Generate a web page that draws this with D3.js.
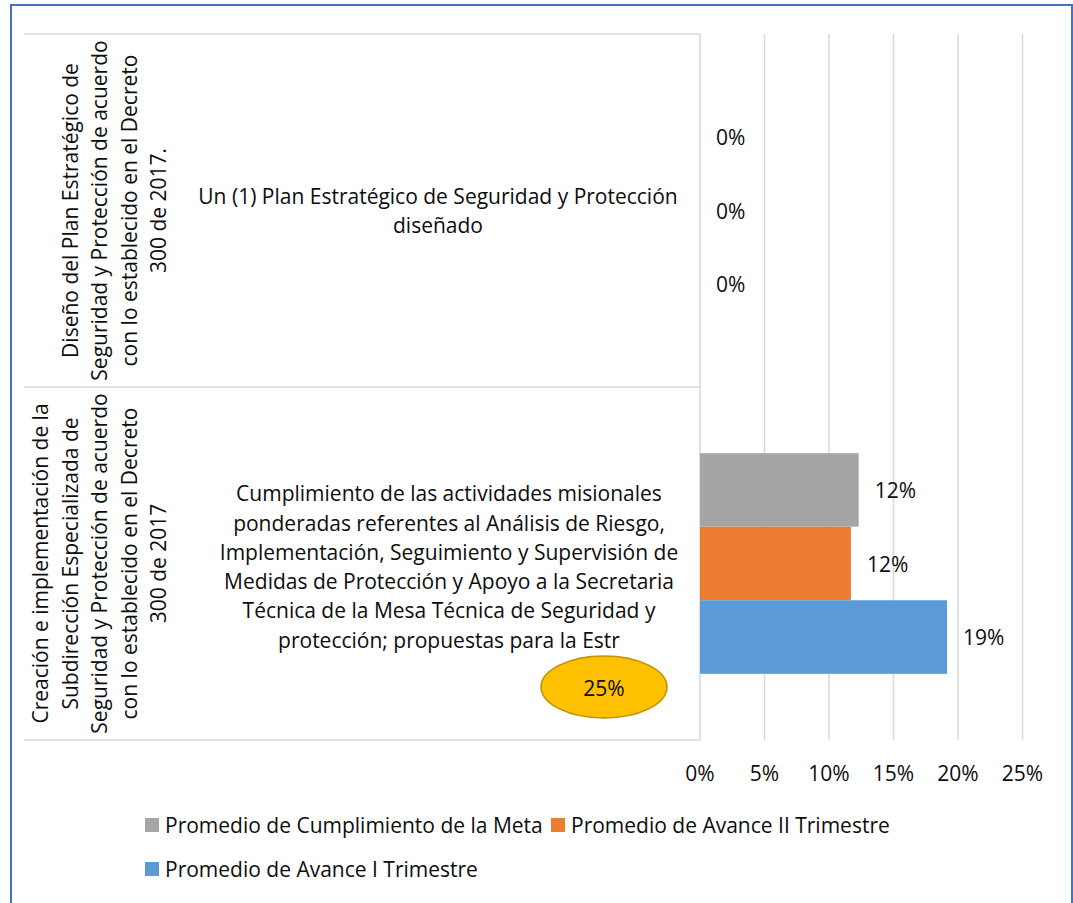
<!DOCTYPE html>
<html>
<head>
<meta charset="utf-8">
<script src="https://cdn.jsdelivr.net/npm/d3@7"></script>
<style>
  body { margin: 0; background: #fff; }
  text { font-family: "Open Sans", sans-serif; fill: #0d0d0d; }
</style>
</head>
<body>
<div id="chart"></div>
<script>
// categories (outer level, wrapped lines) and inner labels
const outerLabels = [
    ["Diseño del Plan Estratégico de", "Seguridad y Protección de acuerdo", "con lo establecido en el Decreto", "300 de 2017."],
    ["Creación e implementación de la", "Subdirección Especializada de", "Seguridad y Protección  de acuerdo", "con lo establecido en el Decreto", "300 de 2017"]
];
const innerLabels = [
    ["Un (1) Plan Estratégico de Seguridad y Protección", "diseñado"],
    ["Cumplimiento de las actividades misionales", "ponderadas referentes al Análisis de Riesgo,",
     "Implementación, Seguimiento y Supervisión de", "Medidas de Protección y Apoyo a la Secretaria",
     "Técnica de la Mesa Técnica de Seguridad y", "protección; propuestas para la Estr"]
];
const categories = ["plan", "subdireccion"];
const seriesNames = ["Promedio de Cumplimiento de la Meta", "Promedio de Avance II Trimestre", "Promedio de Avance I Trimestre"];
const metaValues = [0, 0.123];
const avance2Values = [0, 0.117];
const avance1Values = [0, 0.1915];
const xTicks = [0, 0.05, 0.10, 0.15, 0.20, 0.25];
const calloutLabel = "25%";

const seriesValues = [metaValues, avance2Values, avance1Values];
const colors = ["#A5A5A5", "#ED7D31", "#5B9BD5"];
const FS = "21px";

const W = 1073, H = 903;
const svg = d3.select("#chart").append("svg")
    .attr("width", W).attr("height", H);

// outer frame
svg.append("rect")
    .attr("x", 11).attr("y", 5).attr("width", 1061).attr("height", 920)
    .attr("fill", "none").attr("stroke", "#4472C4").attr("stroke-width", 2);

const plotTop = 34, plotBottom = 740, plotLeft = 700, tableLeft = 24;
const x = d3.scaleLinear().domain([0, 0.25]).range([plotLeft, 1022.5]);
const y = d3.scaleBand().domain(categories).range([plotTop, plotBottom]);
const ySub = d3.scaleBand().domain(d3.range(seriesNames.length))
    .range([0, y.bandwidth()]).paddingInner(0).paddingOuter(0.9);

// gridlines
svg.append("g").selectAll("line")
    .data(xTicks)
    .join("line")
    .attr("x1", d => x(d)).attr("x2", d => x(d))
    .attr("y1", plotTop).attr("y2", plotBottom)
    .attr("stroke", "#D9D9D9").attr("stroke-width", 1.5);

// table lines of the category axis
const hLines = [plotTop, ...categories.map(c => y(c) + y.bandwidth())];
svg.append("g").selectAll("line")
    .data(hLines)
    .join("line")
    .attr("x1", tableLeft).attr("x2", plotLeft)
    .attr("y1", d => d).attr("y2", d => d)
    .attr("stroke", "#D9D9D9").attr("stroke-width", 1.5);

// bars
const groups = svg.append("g").selectAll("g")
    .data(categories)
    .join("g")
    .attr("transform", c => `translate(0,${y(c)})`);

groups.each(function(c, ci) {
    const g = d3.select(this);
    seriesValues.forEach((vals, si) => {
        g.append("rect")
            .attr("x", x(0))
            .attr("y", ySub(si))
            .attr("width", x(vals[ci]) - x(0))
            .attr("height", ySub.bandwidth())
            .attr("fill", colors[si]);
        g.append("text")
            .attr("x", x(vals[ci]) + 16)
            .attr("y", ySub(si) + ySub.bandwidth() / 2)
            .attr("dominant-baseline", "central")
            .style("font-size", FS)
            .text(d3.format(".0%")(vals[ci]));
    });
});

// outer (rotated) category labels
categories.forEach((c, ci) => {
    const lines = outerLabels[ci];
    const cy = y(c) + y.bandwidth() / 2;
    lines.forEach((t, i) => {
        const lx = 158 - (lines.length - 1 - i) * 29.5;
        svg.append("text")
            .attr("transform", `translate(${lx},${cy}) rotate(-90)`)
            .attr("text-anchor", "middle")
            .attr("dominant-baseline", "central")
            .style("font-size", FS)
            .text(t);
    });
});

// inner category labels
const innerCx = [438, 449];
categories.forEach((c, ci) => {
    const lines = innerLabels[ci];
    const lh = 29.3;
    const cy = y(c) + y.bandwidth() / 2 + (ci === 1 ? 3 : 0);
    lines.forEach((t, i) => {
        svg.append("text")
            .attr("x", innerCx[ci])
            .attr("y", cy + (i - (lines.length - 1) / 2) * lh)
            .attr("text-anchor", "middle")
            .attr("dominant-baseline", "central")
            .style("font-size", FS)
            .text(t);
    });
});

// x axis tick labels
svg.append("g").selectAll("text")
    .data(xTicks)
    .join("text")
    .attr("x", d => x(d))
    .attr("y", 773)
    .attr("text-anchor", "middle")
    .attr("dominant-baseline", "central")
    .style("font-size", FS)
    .text(d => d3.format(".0%")(d));

// callout ellipse
svg.append("ellipse")
    .attr("cx", 604).attr("cy", 687).attr("rx", 63).attr("ry", 31)
    .attr("fill", "#FFC000").attr("stroke", "#BF9000").attr("stroke-width", 1.5);
svg.append("text")
    .attr("x", 604).attr("y", 688)
    .attr("text-anchor", "middle").attr("dominant-baseline", "central")
    .style("font-size", FS)
    .text(calloutLabel);

// legend
const legendPos = [[145, 825], [551, 825], [145, 869]];
seriesNames.forEach((name, i) => {
    const [lx, ly] = legendPos[i];
    svg.append("rect")
        .attr("x", lx).attr("y", ly - 7).attr("width", 14).attr("height", 14)
        .attr("fill", colors[i]);
    svg.append("text")
        .attr("x", lx + 20).attr("y", ly)
        .attr("dominant-baseline", "central")
        .style("font-size", FS)
        .text(name);
});
</script>
</body>
</html>
